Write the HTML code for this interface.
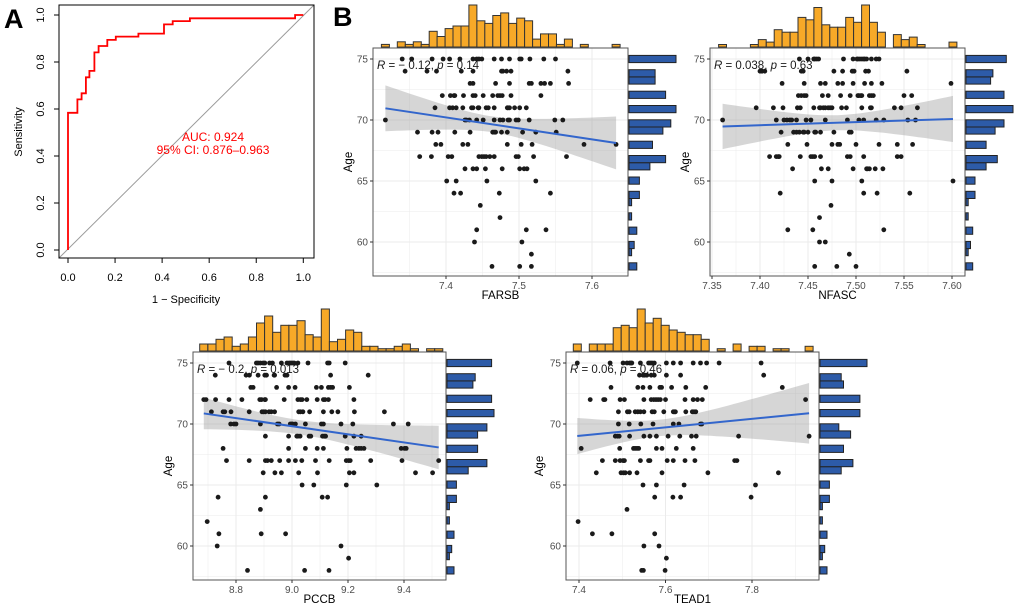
<!DOCTYPE html>
<html><head><meta charset="utf-8">
<style>
html,body{margin:0;padding:0;background:#fff;}
svg{display:block;font-family:"Liberation Sans",sans-serif;}
</style></head>
<body>
<svg id="fig" width="1020" height="607" viewBox="0 0 1020 607" xmlns="http://www.w3.org/2000/svg">
<text x="4" y="28" font-size="27" font-weight="bold">A</text>
<text x="333" y="26" font-size="27" font-weight="bold">B</text>
<g id="roc"></g>
<g id="p1"></g>
<g id="p2"></g>
<g id="p3"></g>
<g id="p4"></g>
</svg>
<script>
// ROC data
const rocFpr = [0,0,0.040,0.040,0.058,0.058,0.076,0.076,0.091,0.091,0.112,0.112,0.130,0.130,0.167,0.167,0.203,0.203,0.299,0.299,0.408,0.408,0.445,0.445,0.518,0.518,0.965,0.965,1.0];
const rocTpr = [0,0.584,0.584,0.641,0.641,0.667,0.667,0.735,0.735,0.762,0.762,0.841,0.841,0.868,0.868,0.894,0.894,0.908,0.908,0.921,0.921,0.960,0.960,0.974,0.974,0.986,0.986,1.0,1.0];
const rocTicks = [0,0.2,0.4,0.6,0.8,1.0];
const rocAuc = "AUC: 0.924";
const rocCi = "95% CI: 0.876\u20130.963";

// Scatter data: rows of [age, [gene expression values]]
const farsbRows = [
[75,[7.340,7.353,7.381,7.396,7.405,7.419,7.437,7.442,7.445,7.449,7.466,7.476,7.487,7.501,7.503,7.515,7.534,7.550]],
[74,[7.344,7.374,7.387,7.421,7.437,7.476,7.478,7.483,7.489,7.567]],
[73,[7.433,7.437,7.468,7.487,7.514,7.517,7.530,7.535,7.543,7.568]],
[72,[7.395,7.406,7.411,7.412,7.424,7.437,7.440,7.451,7.464,7.471,7.474,7.477,7.489,7.530]],
[71,[7.385,7.405,7.409,7.414,7.423,7.435,7.437,7.444,7.445,7.455,7.458,7.466,7.484,7.485,7.487,7.494,7.501,7.510]],
[70,[7.317,7.426,7.428,7.432,7.442,7.451,7.466,7.474,7.478,7.485,7.487,7.496,7.499,7.514,7.549,7.560]],
[69,[7.361,7.381,7.389,7.412,7.433,7.464,7.466,7.468,7.476,7.484,7.505,7.523,7.551]],
[68,[7.386,7.393,7.423,7.430,7.484,7.503,7.518,7.589,7.633]],
[67,[7.364,7.380,7.403,7.408,7.445,7.449,7.452,7.455,7.460,7.466,7.496,7.499,7.520,7.565]],
[66,[7.426,7.437,7.442,7.454,7.477,7.501,7.507,7.511]],
[65,[7.401,7.414,7.456,7.523]],
[64,[7.411,7.420,7.473,7.543]],
[63,[7.447]],[62,[7.474]],[61,[7.442,7.510,7.537]],[60,[7.439,7.504]],[59,[7.517]],[58,[7.463,7.501,7.517]]
];
const nfascRows = [
[75,[7.441,7.450,7.456,7.457,7.459,7.461,7.487,7.497,7.501,7.502,7.504,7.506,7.508,7.509,7.511,7.516,7.521,7.524]],
[74,[7.400,7.402,7.405,7.443,7.445,7.477,7.486,7.496,7.498,7.510,7.513,7.553]],
[73,[7.423,7.446,7.463,7.468,7.481,7.486,7.497,7.509,7.516,7.527,7.599]],
[72,[7.440,7.443,7.446,7.448,7.465,7.471,7.484,7.494,7.502,7.503,7.505,7.506,7.514,7.516,7.518,7.550,7.558]],
[71,[7.396,7.414,7.424,7.439,7.442,7.456,7.462,7.463,7.466,7.468,7.471,7.473,7.475,7.485,7.490,7.506,7.515,7.516,7.540,7.547,7.564]],
[70,[7.361,7.417,7.425,7.428,7.431,7.433,7.438,7.448,7.453,7.468,7.491,7.503,7.508,7.521,7.529,7.554,7.562]],
[69,[7.422,7.435,7.438,7.441,7.445,7.446,7.450,7.457,7.458,7.463,7.477,7.493,7.495]],
[68,[7.429,7.449,7.475,7.481,7.483,7.500,7.524,7.543,7.559]],
[67,[7.410,7.417,7.419,7.420,7.442,7.453,7.455,7.457,7.463,7.491,7.494,7.508,7.543,7.547]],
[66,[7.434,7.464,7.471,7.497,7.511,7.512,7.514,7.520,7.528]],
[65,[7.457,7.475,7.506,7.601]],
[64,[7.421,7.508,7.522,7.556]],
[63,[7.474]],[62,[7.462]],[61,[7.429,7.455,7.529]],[60,[7.462,7.468]],[59,[7.493]],[58,[7.457,7.480,7.500]]
];
const pccbRows = [
[75,[8.775,8.873,8.879,8.887,8.897,8.903,8.920,8.930,8.962,8.982,8.990,8.996,9.002,9.008,9.021,9.057,9.127,9.133,9.190]],
[74,[8.726,8.836,8.848,8.879,8.903,8.909,8.936,8.938,8.975,8.982,9.138,9.272]],
[73,[8.853,8.861,8.945,8.988,9.011,9.087,9.105,9.130,9.138,9.145,9.205]],
[72,[8.685,8.693,8.727,8.775,8.821,8.885,8.891,8.903,8.905,8.972,9.021,9.030,9.036,9.053,9.090,9.112,9.118,9.130,9.221]],
[71,[8.712,8.754,8.760,8.782,8.847,8.893,8.899,8.905,8.918,8.926,8.938,9.024,9.030,9.039,9.063,9.112,9.142,9.164,9.223,9.330]],
[70,[8.781,8.793,8.800,8.887,8.948,8.954,8.994,8.999,9.002,9.012,9.048,9.105,9.112,9.175,9.217,9.362,9.415]],
[69,[8.905,8.988,9.017,9.021,9.029,9.061,9.067,9.109,9.115,9.120,9.190,9.221,9.247]],
[68,[8.754,8.988,9.048,9.090,9.112,9.196,9.229,9.239,9.247,9.257,9.390,9.402,9.408]],
[67,[8.766,8.847,8.905,8.912,8.926,8.956,8.988,9.012,9.035,9.084,9.133,9.194,9.202,9.208,9.281,9.393,9.524]],
[66,[8.897,8.939,8.962,9.024,9.091,9.205,9.221,9.441,9.502]],
[65,[9.036,9.078,9.194,9.303]],
[64,[8.736,8.905,9.108,9.127]],
[63,[8.887]],[62,[8.697]],[61,[8.739,8.890,8.977]],[60,[8.733,9.175]],[59,[9.202]],[58,[8.841,9.045,9.132]]
];
const tead1Rows = [
[75,[7.396,7.472,7.502,7.511,7.517,7.520,7.522,7.542,7.561,7.565,7.569,7.574,7.602,7.618,7.635,7.664,7.681,7.695,7.724,7.821]],
[74,[7.540,7.548,7.552,7.557,7.567,7.574,7.602,7.635,7.827]],
[73,[7.474,7.536,7.548,7.564,7.587,7.591,7.614,7.647,7.693,7.870]],
[72,[7.426,7.457,7.460,7.495,7.505,7.550,7.567,7.573,7.578,7.583,7.588,7.600,7.645,7.664,7.674,7.685,7.924]],
[71,[7.491,7.512,7.516,7.530,7.536,7.542,7.550,7.569,7.574,7.596,7.618,7.621,7.623,7.647,7.662,7.666,7.670]],
[70,[7.491,7.516,7.543,7.571,7.618,7.631,7.681,7.684]],
[69,[7.484,7.489,7.493,7.517,7.550,7.564,7.579,7.606,7.633,7.660,7.671,7.769,7.932]],
[68,[7.405,7.494,7.526,7.530,7.534,7.538,7.579,7.592,7.625,7.664]],
[67,[7.454,7.484,7.495,7.502,7.505,7.542,7.561,7.564,7.604,7.618,7.645,7.668,7.760,7.765]],
[66,[7.440,7.497,7.503,7.507,7.517,7.534,7.592,7.698,7.861]],
[65,[7.548,7.579,7.643,7.808]],
[64,[7.575,7.617,7.635,7.798]],
[63,[7.511]],[62,[7.398]],[61,[7.431,7.476,7.575]],[60,[7.550,7.585]],[59,[7.602]],[58,[7.545,7.549,7.599]]
];
const farsbTicks = [7.4,7.5,7.6];
const nfascTicks = [7.35,7.40,7.45,7.50,7.55,7.60];
const pccbTicks = [8.8,9.0,9.2,9.4];
const tead1Ticks = [7.4,7.6,7.8];
const ageTicks = [60,65,70,75];
const farsbStat = ["-0.12","0.14"];
const nfascStat = ["0.038","0.63"];
const pccbStat = ["-0.2","0.013"];
const tead1Stat = ["0.06","0.46"];

const NS="http://www.w3.org/2000/svg";
function mk(tag, attrs, parent){const e=document.createElementNS(NS,tag);for(const k in attrs)e.setAttribute(k,attrs[k]);parent.appendChild(e);return e;}

// ---------- ROC ----------
(function(){
  const g=document.getElementById('roc');
  const L=59,R=314,T=5,B=258;
  const sx=v=>68+v*(303.3-68), sy=v=>250-v*(250-15);
  const diag=mk('line',{x1:L,y1:B,x2:R,y2:T,stroke:'#9a9a9a','stroke-width':1},g);
  
  
  let d='';rocFpr.forEach((f,i)=>{d+=(i?'L':'M')+sx(f).toFixed(1)+','+sy(rocTpr[i]).toFixed(1);});
  const curve=mk('path',{d:d,fill:'none',stroke:'#ff0000','stroke-width':1.8},g);
  
  
  const box=mk('rect',{x:L,y:T,width:R-L,height:B-T,fill:'none',stroke:'#000','stroke-width':1},g);
  
  
  rocTicks.forEach(t=>{
    mk('line',{x1:sx(t),y1:B,x2:sx(t),y2:B+5,stroke:'#000'},g);
    const tx=mk('text',{x:sx(t),y:281,'font-size':11,'text-anchor':'middle',fill:'#000'},g);
    tx.textContent=t.toFixed(1);
    
    
    mk('line',{x1:L,y1:sy(t),x2:L-5,y2:sy(t),stroke:'#000'},g);
    const ty=mk('text',{x:44,y:sy(t),'font-size':11,'text-anchor':'middle',fill:'#000',transform:'rotate(-90 44 '+sy(t)+')'},g);
    ty.textContent=t.toFixed(1);
    
    
  });
  const xt=mk('text',{x:186,y:303,'font-size':11,'text-anchor':'middle'},g);
  xt.textContent='1 \u2212 Specificity';
  
  
  const yt=mk('text',{x:22,y:132,'font-size':11,'text-anchor':'middle',transform:'rotate(-90 22 132)'},g);
  yt.textContent='Sensitivity';
  
  
  const a1=mk('text',{x:213,y:141,'font-size':12,'text-anchor':'middle',fill:'#ff0000'},g);
  a1.textContent=rocAuc;
  
  
  const a2=mk('text',{x:213,y:154,'font-size':12,'text-anchor':'middle',fill:'#ff0000'},g);
  a2.textContent=rocCi;
  
  
})();

// ---------- Scatter panels ----------
function panel(id, rows, ticks, stat, name, cfg){
  const g=document.getElementById(id);
  const {L,R,T,B,x0,px0,x1,px1,dec,yLab}=cfg;
  const sx=v=>px0+(v-x0)*(px1-px0)/(x1-x0);
  const sy=a=>cfg.y75+(75-a)*cfg.pyr;
  const xsAll=[],ysAll=[];
  rows.forEach(r=>r[1].forEach(x=>{xsAll.push(x);ysAll.push(r[0]);}));
  const dmin=Math.min(...xsAll), dmax=Math.max(...xsAll);
  mk('rect',{x:L,y:T,width:R-L,height:B-T,fill:'#fff'},g);
  const vmin=x0-(px0-L)*(x1-x0)/(px1-px0), vmax=x0+(R-px0)*(x1-x0)/(px1-px0);
  const step=ticks[1]-ticks[0];
  for(let t=ticks[0]-step*3;t<=vmax+step;t+=step/2){
    if(t<vmin||t>vmax)continue;
    const major=Math.abs(((t-ticks[0])/step)-Math.round((t-ticks[0])/step))<0.01;
    mk('line',{x1:sx(t),y1:T,x2:sx(t),y2:B,stroke:'#ebebeb','stroke-width':major?1:0.5},g);
  }
  for(let a=57.5;a<=76;a+=2.5){
    const major=a%5===0;
    if(sy(a)<T||sy(a)>B)continue;
    mk('line',{x1:L,y1:sy(a),x2:R,y2:sy(a),stroke:'#ebebeb','stroke-width':major?1:0.5},g);
  }
  const n=xsAll.length, mx=xsAll.reduce((s,v)=>s+v,0)/n, my=ysAll.reduce((s,v)=>s+v,0)/n;
  let sxx=0,sxy=0;xsAll.forEach((x,i)=>{sxx+=(x-mx)**2;sxy+=(x-mx)*(ysAll[i]-my);});
  const b=sxy/sxx, a0=my-b*mx;
  let sse=0;xsAll.forEach((x,i)=>{sse+=(ysAll[i]-a0-b*x)**2;});
  const s=Math.sqrt(sse/(n-2)), tq=1.97;
  const steps=40, up=[], lo=[];
  for(let i=0;i<=steps;i++){
    const x=dmin+(dmax-dmin)*i/steps, yh=a0+b*x, se=s*Math.sqrt(1/n+(x-mx)**2/sxx);
    up.push(sx(x).toFixed(1)+','+sy(yh+tq*se).toFixed(1));
    lo.unshift(sx(x).toFixed(1)+','+sy(yh-tq*se).toFixed(1));
  }
  const band=mk('polygon',{points:up.concat(lo).join(' '),fill:'#999999','fill-opacity':0.4},g);
  
  
  xsAll.forEach((x,i)=>{
    const c=mk('circle',{cx:sx(x).toFixed(1),cy:sy(ysAll[i]).toFixed(1),r:2.4,fill:'#1a1a1a'},g);
    
    
  });
  const ln=mk('line',{x1:sx(dmin),y1:sy(a0+b*dmin),x2:sx(dmax),y2:sy(a0+b*dmax),stroke:'#3366cc','stroke-width':2},g);
  
  
  const fr=mk('rect',{x:L,y:T,width:R-L,height:B-T,fill:'none',stroke:'#555','stroke-width':1},g);
  
  
  const st=mk('text',{x:L+4,y:T+21,'font-size':11.5,fill:'#1a1a1a'},g);
  st.innerHTML='<tspan font-style="italic">R</tspan> = '+stat[0].replace('-','\u2212 ')+', <tspan font-style="italic">p</tspan> = '+stat[1];
  
  
  ticks.forEach(t=>{
    mk('line',{x1:sx(t),y1:B,x2:sx(t),y2:B+3,stroke:'#333'},g);
    const tx=mk('text',{x:sx(t),y:B+13,'font-size':10,'text-anchor':'middle',fill:'#4d4d4d'},g);
    tx.textContent=t.toFixed(dec);
    
    
  });
  ageTicks.forEach(a=>{
    mk('line',{x1:L,y1:sy(a),x2:L-3,y2:sy(a),stroke:'#333'},g);
    const ty=mk('text',{x:L-5,y:sy(a)+3.5,'font-size':10,'text-anchor':'end',fill:'#4d4d4d'},g);
    ty.textContent=a;
    
    
  });
  const xt=mk('text',{x:(L+R)/2,y:B+23,'font-size':11.5,'text-anchor':'middle'},g);
  xt.textContent=cfg.title;
  
  
  const ym=(T+B)/2;
  const yt=mk('text',{x:yLab,y:ym,'font-size':11.5,'text-anchor':'middle',transform:'rotate(-90 '+yLab+' '+ym+')'},g);
  yt.textContent='Age';
  
  
  const nb=30, bw=(dmax-dmin)/(nb-1), cnt=new Array(nb).fill(0);
  xsAll.forEach(x=>{cnt[Math.min(nb-1,Math.floor((x-dmin)/bw+0.5))]++;});
  const cmax=Math.max(...cnt);
  cnt.forEach((c,i)=>{
    if(!c)return;
    const xa=sx(dmin+(i-0.5)*bw), xb=sx(dmin+(i+0.5)*bw), h=c/cmax*42;
    const r=mk('rect',{x:xa.toFixed(1),y:(T-1-h).toFixed(1),width:(xb-xa).toFixed(1),height:h.toFixed(1),fill:'#f7a928',stroke:'#333','stroke-width':1},g);
    
    
  });
  const amin=Math.min(...ysAll), amax=Math.max(...ysAll), ab=(amax-amin)/(nb-1), ac=new Array(nb).fill(0);
  ysAll.forEach(a=>{ac[Math.min(nb-1,Math.floor((a-amin)/ab+0.5))]++;});
  const acm=Math.max(...ac);
  ac.forEach((c,i)=>{
    if(!c)return;
    const ya=sy(amin+(i+0.5)*ab), yb=sy(amin+(i-0.5)*ab), w=c/acm*47;
    const r=mk('rect',{x:R+1,y:ya.toFixed(1),width:w.toFixed(1),height:(yb-ya).toFixed(1),fill:'#2d5ba8',stroke:'#222','stroke-width':1},g);
    
    
  });
}
panel('p1',farsbRows,farsbTicks,farsbStat,'farsb',{L:373,R:628,T:48,B:276,x0:7.4,px0:446,x1:7.5,px1:519,dec:1,y75:59,pyr:12.2,yLab:352,title:'FARSB'});
panel('p2',nfascRows,nfascTicks,nfascStat,'nfasc',{L:710,R:965,T:48,B:276,x0:7.35,px0:712,x1:7.60,px1:952,dec:2,y75:59,pyr:12.2,yLab:689,title:'NFASC'});
panel('p3',pccbRows,pccbTicks,pccbStat,'pccb',{L:193,R:446,T:352,B:580,x0:8.8,px0:236,x1:9.4,px1:404,dec:1,y75:363,pyr:12.2,yLab:172,title:'PCCB'});
panel('p4',tead1Rows,tead1Ticks,tead1Stat,'tead1',{L:566,R:819,T:352,B:580,x0:7.4,px0:579,x1:7.8,px1:752,dec:1,y75:363,pyr:12.2,yLab:543,title:'TEAD1'});
</script>
</body></html>
